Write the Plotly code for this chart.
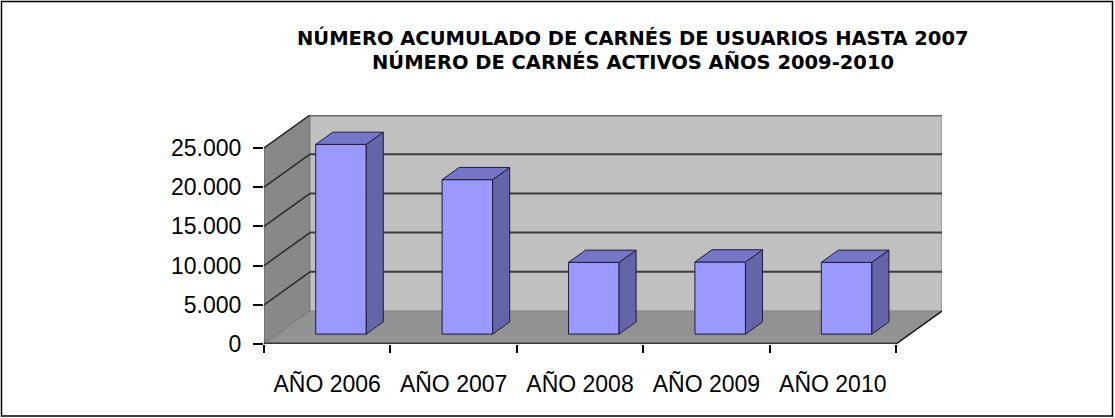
import plotly.graph_objects as go

# ---------------- data ----------------
categories = ["AÑO 2006", "AÑO 2007", "AÑO 2008", "AÑO 2009", "AÑO 2010"]
values = [24200, 19700, 9150, 9200, 9150]
y_tick_values = [0, 5000, 10000, 15000, 20000, 25000]
y_tick_labels = ["0", "5.000", "10.000", "15.000", "20.000", "25.000"]
title_lines = ["NÚMERO ACUMULADO DE CARNÉS DE USUARIOS HASTA 2007",
               "NÚMERO DE CARNÉS ACTIVOS AÑOS 2009-2010"]

# ---------------- 3D-look geometry (style constants) ----------------
W, H = 1115, 418
ML, MR, MT, MB = 264, 173, 115, 74
DX = 0.364          # full depth offset in category units
DY = 4209           # full depth offset in value units
F0, F1 = 0.30, 0.67  # bar front / back depth fractions
BAR_W = 0.40
YMAX = 25000 + DY
n = len(categories)
X0, X1 = -0.5, n - 0.5

PW, PH = W - ML - MR, H - MT - MB


def px_x(p):
    return (p - ML) / PW


def px_y(p):
    return (H - MB - p) / PH


fig = go.Figure()

shapes = []
# left wall
shapes.append(dict(type="path", layer="below", xref="x", yref="y",
                   path=f"M {X0},0 L {X0},{y_tick_values[-1]} L {X0+DX},{y_tick_values[-1]+DY} L {X0+DX},{DY} Z",
                   fillcolor="#888888", line=dict(color="#5a5a5a", width=1)))
# floor
shapes.append(dict(type="path", layer="below", xref="x", yref="y",
                   path=f"M {X0},0 L {X1},0 L {X1+DX},{DY} L {X0+DX},{DY} Z",
                   fillcolor="#929292", line=dict(color="#929292", width=0)))
# back wall
shapes.append(dict(type="rect", layer="below", xref="x", yref="y",
                   x0=X0 + DX, x1=X1 + DX, y0=DY, y1=y_tick_values[-1] + DY,
                   fillcolor="#c0c0c0", line=dict(color="#808080", width=1)))
# back wall top edge
shapes.append(dict(type="line", layer="below", xref="x", yref="y",
                   x0=X0 + DX, x1=X1 + DX, y0=y_tick_values[-1] + DY, y1=y_tick_values[-1] + DY,
                   line=dict(color="#6a6a6a", width=3)))
# gridlines on back wall and left wall
for v in y_tick_values[1:-1]:
    shapes.append(dict(type="line", layer="below", xref="x", yref="y",
                       x0=X0 + DX, x1=X1 + DX, y0=v + DY, y1=v + DY,
                       line=dict(color="#3c3c3c", width=2)))
for v in y_tick_values[1:]:
    shapes.append(dict(type="line", layer="below", xref="x", yref="y",
                       x0=X0, x1=X0 + DX, y0=v, y1=v + DY,
                       line=dict(color="#2a2a2a", width=1.5)))
# floor front edge and right edge
shapes.append(dict(type="line", layer="below", xref="x", yref="y",
                   x0=X0, x1=X1, y0=0, y1=0, line=dict(color="#3a3a3a", width=3)))
shapes.append(dict(type="line", layer="below", xref="x", yref="y",
                   x0=X1, x1=X1 + DX, y0=0, y1=DY, line=dict(color="#111111", width=1.5)))
# chart frame
shapes.append(dict(type="rect", layer="above", xref="paper", yref="paper",
                   x0=px_x(1.5), x1=px_x(1112.5), y0=px_y(416), y1=px_y(1.5),
                   line=dict(color="black", width=1.5), fillcolor="rgba(0,0,0,0)"))

# bar faces
side_col, top_col, front_col, edge = "#6464a8", "#7676c8", "#9999ff", "#1e1e3c"
base = F0 * DY
ddx = (F1 - F0) * DX
ddy = (F1 - F0) * DY
for i, v in enumerate(values):
    xc = i + F0 * DX
    xl, xr = xc - BAR_W / 2, xc + BAR_W / 2
    top = base + v
    fig.add_trace(go.Scatter(
        x=[xr, xr, xr + ddx, xr + ddx, xr], y=[base, top, top + ddy, base + ddy, base],
        mode="lines", fill="toself", fillcolor=side_col,
        line=dict(color=edge, width=1), hoverinfo="skip", showlegend=False))
    fig.add_trace(go.Scatter(
        x=[xl, xr, xr + ddx, xl + ddx, xl], y=[top, top, top + ddy, top + ddy, top],
        mode="lines", fill="toself", fillcolor=top_col,
        line=dict(color=edge, width=1), hoverinfo="skip", showlegend=False))

fig.add_trace(go.Bar(
    x=[i + F0 * DX for i in range(n)], y=values, base=[base] * n, width=BAR_W,
    marker=dict(color=front_col, line=dict(color=edge, width=1)),
    showlegend=False, hoverinfo="skip"))

# invisible trace on xaxis2 to carry the boundary ticks
fig.add_trace(go.Scatter(x=[X0, X1], y=[0, 0], xaxis="x2", mode="markers",
                         marker=dict(opacity=0), hoverinfo="skip", showlegend=False))

annotations = []
for k, (line, py) in enumerate(zip(title_lines, [37.5, 62.0])):
    annotations.append(dict(text=f"<b>{line}</b>", xref="paper", yref="paper",
                            x=px_x(633), y=px_y(py), xanchor="center", yanchor="middle",
                            showarrow=False,
                            font=dict(family="DejaVu Sans", size=19.5, color="black")))

fig.update_layout(
    width=W, height=H,
    margin=dict(l=ML, r=MR, t=MT, b=MB, pad=0),
    paper_bgcolor="white", plot_bgcolor="white",
    shapes=shapes, annotations=annotations,
    barmode="overlay",
    xaxis=dict(range=[X0, X1 + DX], tickvals=list(range(n)), ticktext=categories,
               ticks="", showgrid=False, zeroline=False, showline=False,
               tickfont=dict(family="Liberation Sans, Arial", size=23, color="black"),
               ticklabelstandoff=24, fixedrange=True),
    xaxis2=dict(range=[X0, X1 + DX], overlaying="x", anchor="y",
                tickvals=[X0 + k for k in range(n + 1)], ticks="outside", ticklen=8,
                tickwidth=1.5, tickcolor="black", showticklabels=False,
                showgrid=False, zeroline=False, showline=False),
    yaxis=dict(range=[0, YMAX], tickvals=y_tick_values, ticktext=y_tick_labels,
               ticks="outside", ticklen=10, tickwidth=1.5, tickcolor="black",
               showgrid=False, zeroline=False, showline=False,
               tickfont=dict(family="Liberation Sans, Arial", size=23, color="black"),
               ticklabelstandoff=7, fixedrange=True),
)

fig.write_html("out.html", config={"displayModeBar": False},
               post_script="document.body.style.margin='0';document.body.style.overflow='hidden';")
